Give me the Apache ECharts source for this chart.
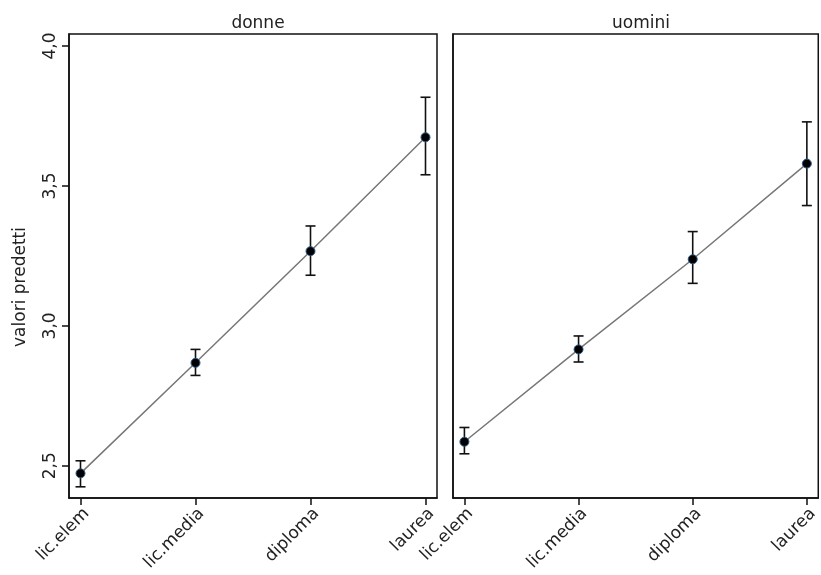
<!DOCTYPE html>
<html>
<head>
<meta charset="utf-8">
<script src="https://cdn.jsdelivr.net/npm/echarts@6/dist/echarts.min.js"></script>
<style>html,body{margin:0;padding:0;background:#fff}#c{width:821px;height:575px}</style>
</head>
<body>
<div id="c"></div>
<script>
var categories = ['lic.elem', 'lic.media', 'diploma', 'laurea'];
var panels = ['donne', 'uomini'];
var donneMean = [2.473, 2.868, 3.267, 3.674];
var donneLow = [2.425, 2.823, 3.181, 3.540];
var donneHigh = [2.518, 2.916, 3.357, 3.817];
var uominiMean = [2.586, 2.916, 3.238, 3.580];
var uominiLow = [2.543, 2.871, 3.152, 3.430];
var uominiHigh = [2.637, 2.964, 3.337, 3.729];
var yTicks = [2.5, 3.0, 3.5, 4.0];
var yLabel = 'valori predetti';

var FONT = 'DejaVu Sans';
var chart = echarts.init(document.getElementById('c'), null, {renderer: 'canvas'});

function pts(mean) { return mean.map(function (v, i) { return [i, v]; }); }
function bars(lo, hi) { return lo.map(function (v, i) { return [i, v, hi[i]]; }); }

function errRender(params, api) {
  var x = api.value(0);
  var lo = api.coord([x, api.value(1)]);
  var hi = api.coord([x, api.value(2)]);
  var w = 5;
  var st = {stroke: '#111', lineWidth: 1.6};
  return {
    type: 'group',
    children: [
      {type: 'line', shape: {x1: lo[0], y1: lo[1], x2: hi[0], y2: hi[1]}, style: st},
      {type: 'line', shape: {x1: lo[0] - w, y1: lo[1], x2: lo[0] + w, y2: lo[1]}, style: st},
      {type: 'line', shape: {x1: hi[0] - w, y1: hi[1], x2: hi[0] + w, y2: hi[1]}, style: st}
    ]
  };
}

var grids = [
  {left: 69, top: 34, width: 368, height: 464, show: true, borderColor: '#111', borderWidth: 1.5, backgroundColor: '#fff'},
  {left: 453, top: 34, width: 367, height: 464, show: true, borderColor: '#111', borderWidth: 1.5, backgroundColor: '#fff'}
];

function xAxis(gi) {
  return {
    type: 'value', gridIndex: gi, min: -0.1, max: 3.1,
    axisLine: {show: true, onZero: false, lineStyle: {color: '#111', width: 1.5}},
    axisTick: {show: true, customValues: [0, 1, 2, 3], length: 7, lineStyle: {color: '#111', width: 1.5}},
    axisLabel: {show: true, customValues: [0, 1, 2, 3], rotate: 45, margin: 7, verticalAlign: 'top',
      fontFamily: FONT, fontSize: 17, color: '#222',
      formatter: function (v) { return categories[Math.round(v)]; }},
    splitLine: {show: false}
  };
}

function yAxis(gi) {
  var a = {
    type: 'value', gridIndex: gi, min: 2.385, max: 4.043,
    axisLine: {show: true, onZero: false, lineStyle: {color: '#111', width: 1.5}},
    splitLine: {show: false}
  };
  if (gi === 0) {
    a.axisTick = {show: true, customValues: yTicks, length: 7, lineStyle: {color: '#111', width: 1.5}};
    a.axisLabel = {show: true, customValues: yTicks, rotate: 90, margin: 10,
      fontFamily: FONT, fontSize: 17, color: '#222',
      formatter: function (v) { return v.toFixed(1).replace('.', ','); }};
  } else {
    a.axisTick = {show: false};
    a.axisLabel = {show: false};
  }
  return a;
}

var data = [
  {mean: donneMean, lo: donneLow, hi: donneHigh},
  {mean: uominiMean, lo: uominiLow, hi: uominiHigh}
];

var series = [];
data.forEach(function (d, gi) {
  series.push({
    type: 'line', xAxisIndex: gi, yAxisIndex: gi, data: pts(d.mean),
    symbol: 'none', lineStyle: {color: '#777', width: 1.5}, z: 2, silent: true, animation: false
  });
  series.push({
    type: 'custom', xAxisIndex: gi, yAxisIndex: gi, data: bars(d.lo, d.hi),
    renderItem: errRender, z: 3, silent: true, animation: false
  });
  series.push({
    type: 'scatter', xAxisIndex: gi, yAxisIndex: gi, data: pts(d.mean),
    symbol: 'circle', symbolSize: 9,
    itemStyle: {color: '#000', borderColor: '#2a5a8a', borderWidth: 1, opacity: 1},
    z: 4, silent: true, animation: false
  });
});

chart.setOption({
  animation: false,
  backgroundColor: '#fff',
  title: [
    {text: panels[0], left: 253, top: 10, textAlign: 'center', textStyle: {fontFamily: FONT, fontSize: 17, fontWeight: 'normal', color: '#222'}},
    {text: panels[1], left: 636, top: 10, textAlign: 'center', textStyle: {fontFamily: FONT, fontSize: 17, fontWeight: 'normal', color: '#222'}}
  ],
  graphic: [{
    type: 'text', x: 21, y: 287, rotation: Math.PI / 2, silent: true,
    style: {text: yLabel, fontFamily: FONT, fontSize: 17, fill: '#222', align: 'center', verticalAlign: 'middle'}
  }],
  grid: grids,
  xAxis: [xAxis(0), xAxis(1)],
  yAxis: [yAxis(0), yAxis(1)],
  series: series
});
</script>
</body>
</html>
